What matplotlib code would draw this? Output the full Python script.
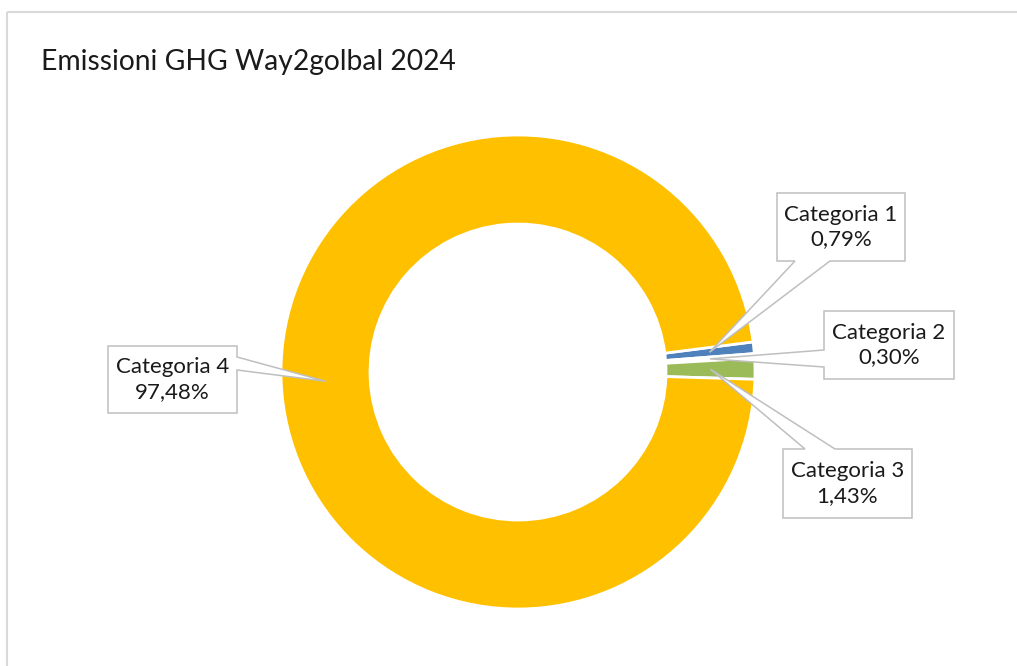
"""Emissioni GHG Way2golbal 2024 — Excel-style donut with callout labels."""

import math

import matplotlib

matplotlib.use("Agg")
import matplotlib.pyplot as plt
from matplotlib.patches import Polygon

W, H = 1017, 666

categories = ["Categoria 1", "Categoria 2", "Categoria 3", "Categoria 4"]
shares = [0.79, 0.30, 1.43, 97.48]
colors = ["#4F81BD", "#FFFFFF", "#9BBB59", "#FFC000"]

# callout boxes in image pixels (left, top, right, bottom), side the pointer leaves from,
# and the two base points of the pointer along that side
boxes = [
    ((777, 193, 905, 261), "bottom", (795, 830)),
    ((824, 311, 954, 379), "left", (350, 367)),
    ((783, 449, 912, 518), "top", (805, 835)),
    ((108, 346, 237, 413), "right", (357, 370)),
]

CX, CY = 518, H - 372
R_OUT, R_IN = 237, 148
FONT = ["Lato", "DejaVu Sans"]


def callout(box, side, base, tip):
    l, t, r, b = box
    b1, b2 = base
    pts = [(l, t)]
    if side == "top":
        pts += [(b1, t), tip, (b2, t)]
    pts.append((r, t))
    if side == "right":
        pts += [(r, b1), tip, (r, b2)]
    pts.append((r, b))
    if side == "bottom":
        pts += [(b2, b), tip, (b1, b)]
    pts.append((l, b))
    if side == "left":
        pts += [(l, b2), tip, (l, b1)]
    return [(x, H - y) if p is not tip else p for p in pts for x, y in [p]]


fig = plt.figure(figsize=(W / 100, H / 100), dpi=100)
ax = fig.add_axes([0, 0, 1, 1])
ax.set_xlim(0, W)
ax.set_ylim(0, H)
ax.set_aspect("equal")
ax.axis("off")

wedges, _ = ax.pie(
    shares, colors=colors, startangle=7.3, counterclock=False,
    radius=R_OUT, center=(CX, CY),
    wedgeprops=dict(width=R_OUT - R_IN, edgecolor="white", linewidth=2.0),
)
ax.set_xlim(0, W)
ax.set_ylim(0, H)

# chart area frame
ax.plot([7, 7], [0, H - 12], color="#D9D9D9", lw=1.5, solid_capstyle="butt")
ax.plot([7, W], [H - 12, H - 12], color="#D9D9D9", lw=1.5, solid_capstyle="butt")

ax.text(41, H - 62, "Emissioni GHG Way2golbal 2024", fontsize=20.3, family=FONT,
        color="#1a1a1a", va="center", ha="left")

r_mid = (R_OUT + R_IN) / 2
for wedge, name, val, (box, side, base) in zip(wedges, categories, shares, boxes):
    ang = math.radians((wedge.theta1 + wedge.theta2) / 2)
    tip = (CX + r_mid * math.cos(ang), CY + r_mid * math.sin(ang))
    poly = Polygon(callout(box, side, base, tip), closed=True, facecolor="white",
                   edgecolor="#BFBFBF", lw=1.1, zorder=5)
    ax.add_patch(poly)
    l, t, r, b = box
    label = f"{name}\n{val:.2f}%".replace(".", ",")
    ax.text((l + r) / 2, H - (t + b) / 2, label, fontsize=16, family=FONT,
            color="#1a1a1a", ha="center", va="center", linespacing=1.3, zorder=6)

fig.savefig("out.png", dpi=100)
